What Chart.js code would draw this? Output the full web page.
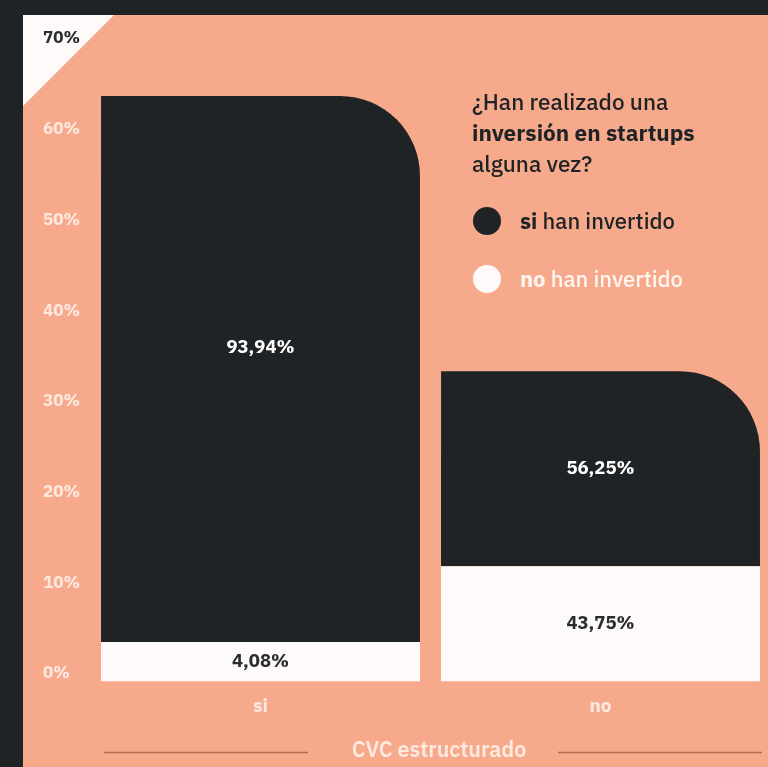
<!DOCTYPE html>
<html>
<head>
<meta charset="utf-8">
<script src="https://cdn.jsdelivr.net/npm/chart.js@4.4.1/dist/chart.umd.min.js"></script>
<style>
  html, body { margin: 0; padding: 0; width: 768px; height: 767px; overflow: hidden; background: #1f2326; }
  #wrap { position: absolute; left: 0; top: 0; width: 790px; height: 767px; }
  #legend { position: absolute; left: 472px; top: 86px; font-family: "IBM Plex Sans", "Inter", "Open Sans", sans-serif; color: #1f2326; }
  #legend .q { font-size: 22.5px; line-height: 31px; font-weight: 500; white-space: nowrap; }
  #legend .q b { font-weight: 700; }
  .item { position: absolute; left: 0; white-space: nowrap; font-size: 22px; font-weight: 500; height: 28px; line-height: 28px; }
  .dot { position: absolute; left: 1px; top: 0px; width: 28px; height: 28px; border-radius: 50%; }
  .item span.t { position: absolute; left: 48px; top: 0; }
</style>
</head>
<body>
<div id="wrap"><canvas id="c" width="790" height="767"></canvas></div>
<div id="legend">
  <div class="q">¿Han realizado una<br><b>inversión en startups</b><br>alguna vez?</div>
  <div class="item" style="top:121px;"><div class="dot" style="background:#1f2326"></div><span class="t" style="color:#1f2326"><b>si</b> han invertido</span></div>
  <div class="item" style="top:179px;"><div class="dot" style="background:#fffafa"></div><span class="t" style="color:#fff6f2"><b>no</b> han invertido</span></div>
</div>
<script>
// ---- data ----
const categories = ["si", "no"];
const seriesNames = ["no han invertido", "si han invertido"];
const noInvertidoHeights = [4.35, 12.7];   // white segment (bottom)
const siInvertidoHeights = [60.2, 21.5];   // dark segment (top)
const noInvertidoLabels = ["4,08%", "43,75%"];
const siInvertidoLabels = ["93,94%", "56,25%"];
const yTicks = [0, 10, 20, 30, 40, 50, 60, 70];
const axisTitle = "CVC estructurado";

const DARK = "#1f2326";
const SALMON = "#f6aa8b";
const WHITE = "#fffafa";
const LIGHT = "#fde9df";
const FONT = "'IBM Plex Sans', 'Inter', 'Open Sans', sans-serif";

const bgPlugin = {
  id: "bg",
  beforeDraw(chart) {
    const ctx = chart.ctx;
    ctx.save();
    ctx.fillStyle = DARK;
    ctx.fillRect(0, 0, chart.width, chart.height);
    ctx.fillStyle = SALMON;
    ctx.fillRect(23, 15, chart.width - 23, chart.height - 15);
    ctx.fillStyle = WHITE;
    ctx.beginPath();
    ctx.moveTo(23, 15);
    ctx.lineTo(114, 15);
    ctx.lineTo(23, 106);
    ctx.closePath();
    ctx.fill();
    ctx.restore();
  }
};

const labelPlugin = {
  id: "segLabels",
  afterDatasetsDraw(chart) {
    const ctx = chart.ctx;
    const sets = [
      { labels: noInvertidoLabels, color: "#2a2d30", dy: [0, 0] },
      { labels: siInvertidoLabels, color: "#ffffff", dy: [-21, 0] }
    ];
    ctx.save();
    ctx.font = "700 18.5px " + FONT;
    ctx.textAlign = "center";
    ctx.textBaseline = "middle";
    sets.forEach((s, di) => {
      const meta = chart.getDatasetMeta(di);
      meta.data.forEach((el, i) => {
        ctx.fillStyle = s.color;
        ctx.fillText(s.labels[i], el.x, (el.y + el.base) / 2 + s.dy[i]);
      });
    });
    // axis title with side lines
    ctx.strokeStyle = "#b86849";
    ctx.lineWidth = 1.5;
    ctx.beginPath();
    ctx.moveTo(104, 752.5); ctx.lineTo(308, 752.5);
    ctx.moveTo(558, 752.5); ctx.lineTo(762, 752.5);
    ctx.stroke();
    ctx.fillStyle = LIGHT;
    ctx.font = "600 21.5px " + FONT;
    ctx.fillText(axisTitle, 439, 751);
    ctx.restore();
  }
};

new Chart(document.getElementById("c"), {
  type: "bar",
  data: {
    labels: categories,
    datasets: [
      {
        label: seriesNames[0],
        data: noInvertidoHeights,
        backgroundColor: WHITE,
        borderWidth: 0,
        barPercentage: 0.938,
        categoryPercentage: 1
      },
      {
        label: seriesNames[1],
        data: siInvertidoHeights,
        backgroundColor: DARK,
        borderWidth: 0,
        borderSkipped: false,
        borderRadius: { topLeft: 0, topRight: 80, bottomLeft: 0, bottomRight: 0 },
        barPercentage: 0.938,
        categoryPercentage: 1
      }
    ]
  },
  options: {
    responsive: false,
    animation: false,
    devicePixelRatio: 1,
    layout: { padding: { left: 43, right: 19.5, top: 46.5, bottom: 0 } },
    plugins: { legend: { display: false }, tooltip: { enabled: false } },
    scales: {
      x: {
        stacked: true,
        grid: { display: false, drawTicks: false },
        border: { display: false },
        ticks: { color: LIGHT, font: { family: FONT, size: 19, weight: "700" }, padding: 14 },
        afterFit(scale) { scale.height = 85.5; }
      },
      y: {
        stacked: true,
        min: 0,
        max: 70,
        afterBuildTicks(scale) { scale.ticks = yTicks.map(v => ({ value: v })); },
        grid: { display: false, drawTicks: false },
        border: { display: false },
        ticks: {
          crossAlign: "far",
          labelOffset: -8,
          callback: v => v + "%",
          color: ctx => (ctx.tick && ctx.tick.value === 70 ? "#2a2d30" : LIGHT),
          font: { family: FONT, size: 17, weight: "700" }
        },
        afterFit(scale) { scale.width = 47.5; }
      }
    }
  },
  plugins: [bgPlugin, labelPlugin]
});
</script>
</body>
</html>
